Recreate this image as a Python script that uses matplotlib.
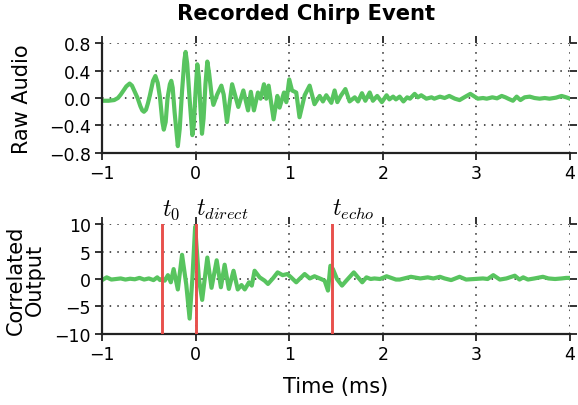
import matplotlib
matplotlib.use("Agg")
import matplotlib.pyplot as plt

plt.rcParams["font.family"] = ["DejaVu Sans"]
plt.rcParams["mathtext.fontset"] = "cm"

# Raw microphone signal (time in ms, amplitude)
raw_t = [-1.00, -0.93, -0.87, -0.83, -0.80, -0.77, -0.74, -0.705, -0.68, -0.65,
         -0.62, -0.59, -0.57, -0.552,
         -0.53, -0.51, -0.49, -0.47, -0.455, -0.43, -0.405, -0.38, -0.355, -0.34, -0.32, -0.30,
         -0.275, -0.26, -0.245, -0.225, -0.19, -0.17, -0.145, -0.12, -0.107, -0.09,
         -0.065, -0.035, -0.02, 0.00, 0.018, 0.035, 0.05, 0.068, 0.085, 0.105,
         0.125, 0.145, 0.17, 0.19, 0.23, 0.275, 0.30, 0.335, 0.36, 0.39,
         0.42, 0.456, 0.51, 0.56, 0.59, 0.623, 0.666, 0.694, 0.730, 0.755,
         0.78, 0.833, 0.873, 0.897, 0.944, 0.969, 1.00, 1.03, 1.075, 1.11,
         1.165, 1.218, 1.27, 1.325, 1.36, 1.396, 1.45, 1.485, 1.514, 1.55,
         1.60, 1.645, 1.70, 1.735, 1.777, 1.813, 1.86, 1.894, 1.94, 1.99,
         2.04, 2.07, 2.11, 2.14, 2.18, 2.22, 2.26, 2.29, 2.34, 2.375,
         2.41, 2.465, 2.52, 2.55, 2.61, 2.66, 2.71, 2.77, 2.82, 2.87,
         2.935, 3.015, 3.07, 3.11, 3.17, 3.22, 3.27, 3.31, 3.34, 3.39,
         3.43, 3.47, 3.515, 3.57, 3.62, 3.675, 3.73, 3.78, 3.85, 3.91,
         3.96, 4.00]
raw_v = [-0.04, -0.04, -0.03, 0.00, 0.05, 0.11, 0.17, 0.21, 0.18, 0.09,
         0.00, -0.12, -0.18, -0.20,
         -0.17, -0.08, 0.03, 0.16, 0.25, 0.32, 0.22, 0.00, -0.35, -0.46, -0.35, 0.00,
         0.20, 0.25, 0.15, -0.20, -0.70, -0.45, 0.10, 0.55, 0.67, 0.50,
         0.00, -0.54, -0.40, 0.10, 0.49, 0.30, -0.10, -0.52, -0.30, 0.20,
         0.53, 0.35, 0.05, -0.10, 0.05, 0.18, 0.05, -0.35, -0.10, 0.20,
         0.05, -0.13, 0.11, -0.18, 0.09, -0.18, 0.08, -0.01, 0.20, -0.01,
         0.18, -0.31, 0.03, -0.14, 0.08, -0.06, 0.27, 0.11, 0.08, -0.28,
         0.04, 0.18, -0.09, 0.03, -0.05, 0.04, -0.07, 0.11, -0.06, 0.03,
         0.13, -0.05, 0.01, -0.05, 0.07, -0.04, 0.08, -0.04, 0.03, -0.06,
         0.04, -0.02, 0.02, -0.02, 0.02, -0.05, 0.01, -0.01, 0.06, 0.01,
         0.04, -0.01, 0.01, -0.01, 0.02, 0.00, 0.03, -0.01, -0.03, 0.01,
         0.06, -0.01, 0.00, -0.01, 0.01, -0.005, 0.03, 0.01, -0.01, -0.04,
         0.02, -0.03, 0.01, 0.02, 0.00, -0.01, 0.00, -0.01, 0.005, 0.03,
         0.01, -0.01]

# Cross-correlation with the emitted chirp
corr_t = [-1.00, -0.95, -0.90, -0.85, -0.80, -0.75, -0.70, -0.65, -0.60, -0.55,
          -0.50, -0.45, -0.41, -0.38, -0.356, -0.33, -0.296, -0.265, -0.235, -0.19,
          -0.145, -0.10, -0.064, -0.035, -0.005, 0.035, 0.07, 0.125, 0.17, 0.225,
          0.27, 0.31, 0.355, 0.405, 0.45, 0.49, 0.525, 0.57, 0.60, 0.63,
          0.684, 0.737, 0.773, 0.83, 0.876, 0.93, 0.98, 1.02, 1.075, 1.11,
          1.165, 1.22, 1.27, 1.34, 1.378, 1.414, 1.44, 1.467, 1.51, 1.564,
          1.61, 1.69, 1.75, 1.78, 1.825, 1.87, 1.91, 1.97, 2.04, 2.14,
          2.18, 2.30, 2.40, 2.48, 2.54, 2.61, 2.66, 2.73, 2.82, 2.89,
          2.98, 3.07, 3.12, 3.18, 3.25, 3.32, 3.41, 3.46, 3.50, 3.55,
          3.62, 3.71, 3.77, 3.84, 3.91, 3.96, 4.00]
corr_v = [-0.2, 0.3, -0.1, 0.0, 0.1, -0.1, 0.05, -0.05, 0.2, -0.1,
          0.1, -0.2, 0.3, -0.2, 0.0, -0.3, 0.7, -0.6, 1.8, -1.9,
          4.4, -1.0, -7.2, 0.0, 9.5, 0.0, -3.8, 3.9, -1.6, 3.4,
          -1.5, 2.6, -1.8, 1.5, -1.9, -1.1, -1.9, -0.6, -1.2, 1.5,
          0.3, -0.3, -0.9, 0.2, 1.2, 0.7, 0.9, 0.3, -0.6, 0.0,
          0.9, 0.1, 0.5, 0.0, -0.3, -2.1, 2.4, 1.8, 0.0, -1.2,
          -0.3, 1.2, 0.0, -0.6, 0.3, 0.0, 0.1, 0.0, 0.5, -0.1,
          -0.1, 0.4, 0.1, 0.3, 0.1, 0.4, 0.1, -0.2, 0.4, -0.1,
          0.0, 0.1, 0.0, 0.7, -0.1, 0.1, 0.6, -0.1, 0.3, -0.1,
          0.1, 0.4, 0.1, 0.0, 0.1, 0.2, 0.2]

# Event markers
event_times = [-0.356, 0.0, 1.456]
event_labels = [r"$t_0$", r"$t_{direct}$", r"$t_{echo}$"]

raw_yticks = [-0.8, -0.4, 0.0, 0.4, 0.8]
corr_yticks = [-10, -5, 0, 5, 10]
xticks = [-1, 0, 1, 2, 3, 4]

GREEN = "#58c45f"
RED = "#e8504c"

fig = plt.figure(figsize=(5.78, 4.06), dpi=100)
ax1 = fig.add_axes([0.1765, 0.6207, 0.8097, 0.2709])
ax2 = fig.add_axes([0.1765, 0.1749, 0.8097, 0.2709])


def style(ax):
    for side in ("top", "right"):
        ax.spines[side].set_visible(False)
    for side in ("left", "bottom"):
        ax.spines[side].set_linewidth(1.6)
        ax.spines[side].set_color("#222222")
    ax.tick_params(direction="out", length=5, width=1.3, color="#222222",
                   top=True, right=True, labelsize=12.5, pad=3)
    ax.grid(True, color="#222222", linestyle=(0, (1, 4)), linewidth=1.1)
    ax.set_axisbelow(True)
    ax.set_xlim(-1, 4)
    ax.set_xticks(xticks)


ax1.plot(raw_t, raw_v, color=GREEN, lw=3.0, solid_joinstyle="round")
style(ax1)
ax1.set_ylim(-0.8, 0.8)
ax1.set_yticks(raw_yticks)
ax1.set_yticklabels([f"{v:.1f}".replace("-", "\u2212") for v in raw_yticks])
ax1.set_ylabel("Raw Audio", fontsize=15)
ax1.yaxis.set_label_coords(-0.15, 0.5)

ax2.plot(corr_t, corr_v, color=GREEN, lw=3.0, solid_joinstyle="round")
for t, lab in zip(event_times, event_labels):
    ax2.plot([t, t], [-10, 10], color=RED, lw=2.1, zorder=3)
    ax2.text(t, 10.6, lab, fontsize=17, ha="left", va="bottom")
style(ax2)
ax2.set_ylim(-10, 10)
ax2.set_yticks(corr_yticks)
ax2.set_ylabel("Correlated\nOutput", fontsize=15, linespacing=0.95)
ax2.yaxis.set_label_coords(-0.122, 0.5)
ax2.set_xlabel("Time (ms)", fontsize=15, labelpad=9)

fig.text(0.529, 0.966, "Recorded Chirp Event", fontsize=15.2, fontweight="bold",
         ha="center", va="center")

fig.savefig("out.png", dpi=100)
